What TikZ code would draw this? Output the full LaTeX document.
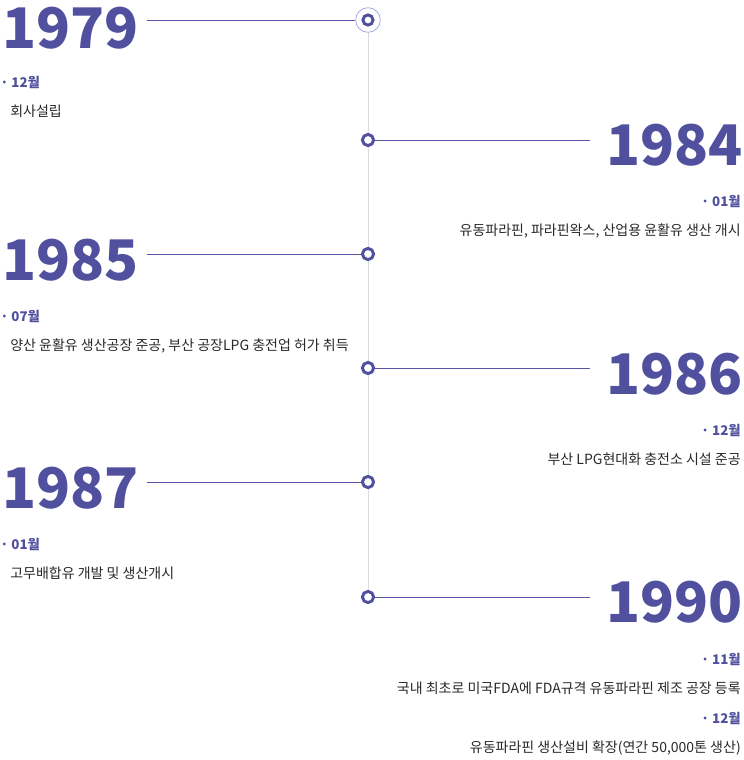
\documentclass[tikz,border=0pt]{standalone}
\usepackage{fontspec}
\setmainfont{Noto Sans CJK KR}
\usetikzlibrary{positioning}

\definecolor{yearblue}{RGB}{80,80,158}
\definecolor{lineblue}{RGB}{88,87,166}
\definecolor{ringblue}{RGB}{170,168,226}
\definecolor{axisgray}{RGB}{218,218,222}
\definecolor{textgray}{RGB}{40,40,40}

\begin{document}
\begin{tikzpicture}[
		x=0.75pt, y=-0.75pt,
		% Estilos de la linea de tiempo
		year/.style = {font=\fontsize{42}{42}\selectfont\bfseries, text=yearblue, inner sep=0pt},
		month/.style = {font=\fontsize{10}{12}\selectfont\bfseries, text=yearblue, inner sep=0pt},
		desc/.style = {font=\fontsize{10.5}{12}\selectfont, text=textgray, inner sep=0pt},
		dot/.style = {circle, draw=yearblue, line width=2.2pt, fill=white, minimum size=8.4pt, inner sep=0pt},
		ring/.style = {circle, draw=ringblue, line width=0.6pt, fill=white, minimum size=18.5pt, inner sep=0pt},
		link/.style = {draw=lineblue, line width=0.75pt}
		]
		
		\useasboundingbox (0,0) rectangle (743,760);
		
		% --- EJE VERTICAL ---
		\coordinate (axis_top) at (368,20);
		\coordinate (axis_bot) at (368,597);
		\draw [axisgray, line width=0.75pt] (axis_top) -- (axis_bot);
		
		% --- 1979 (izquierda) ---
		\node [ring] (r1979) at (368,20) {};
		\node [dot, minimum size=7.6pt] (c1979) at (368,20) {};
		\node [year, anchor=base west] (y1979) at (2,48) {1979};
		\coordinate (l1979) at (147,20);
		\draw [link] (l1979) -- (r1979.west);
		\node [month, anchor=base west] (m1979) at (0,87) {· 12월};
		\node [desc, anchor=base west] (d1979) at (10,116) {회사설립};
		
		% --- 1984 (derecha) ---
		\node [dot] (c1984) at (368,140) {};
		\node [year, anchor=base east] (y1984) at (743,165) {1984};
		\coordinate (l1984) at (590,140);
		\draw [link] (c1984.east) -- (l1984);
		\node [month, anchor=base east] (m1984) at (741,206) {· 01월};
		\node [desc, anchor=base east] (d1984) at (741,235) {유동파라핀, 파라핀왁스, 산업용 윤활유 생산 개시};
		
		% --- 1985 (izquierda) ---
		\node [dot] (c1985) at (368,254) {};
		\node [year, anchor=base west] (y1985) at (2,280) {1985};
		\coordinate (l1985) at (147,254);
		\draw [link] (l1985) -- (c1985.west);
		\node [month, anchor=base west] (m1985) at (0,321) {· 07월};
		\node [desc, anchor=base west] (d1985) at (10,350) {양산 윤활유 생산공장 준공, 부산 공장LPG 충전업 허가 취득};
		
		% --- 1986 (derecha) ---
		\node [dot] (c1986) at (368,368) {};
		\node [year, anchor=base east] (y1986) at (743,394) {1986};
		\coordinate (l1986) at (590,368);
		\draw [link] (c1986.east) -- (l1986);
		\node [month, anchor=base east] (m1986) at (741,435) {· 12월};
		\node [desc, anchor=base east] (d1986) at (741,464) {부산 LPG현대화 충전소 시설 준공};
		
		% --- 1987 (izquierda) ---
		\node [dot] (c1987) at (368,482) {};
		\node [year, anchor=base west] (y1987) at (2,508) {1987};
		\coordinate (l1987) at (147,482);
		\draw [link] (l1987) -- (c1987.west);
		\node [month, anchor=base west] (m1987) at (0,549) {· 01월};
		\node [desc, anchor=base west] (d1987) at (10,578) {고무배합유 개발 및 생산개시};
		
		% --- 1990 (derecha) ---
		\node [dot] (c1990) at (368,597) {};
		\node [year, anchor=base east] (y1990) at (743,622) {1990};
		\coordinate (l1990) at (590,597);
		\draw [link] (c1990.east) -- (l1990);
		\node [month, anchor=base east] (m1990a) at (741,664) {· 11월};
		\node [desc, anchor=base east] (d1990a) at (741,693) {국내 최초로 미국FDA에 FDA규격 유동파라핀 제조 공장 등록};
		\node [month, anchor=base east] (m1990b) at (741,723) {· 12월};
		\node [desc, anchor=base east] (d1990b) at (741,752) {유동파라핀 생산설비 확장(연간 50,000톤 생산)};
		
	\end{tikzpicture}
\end{document}
